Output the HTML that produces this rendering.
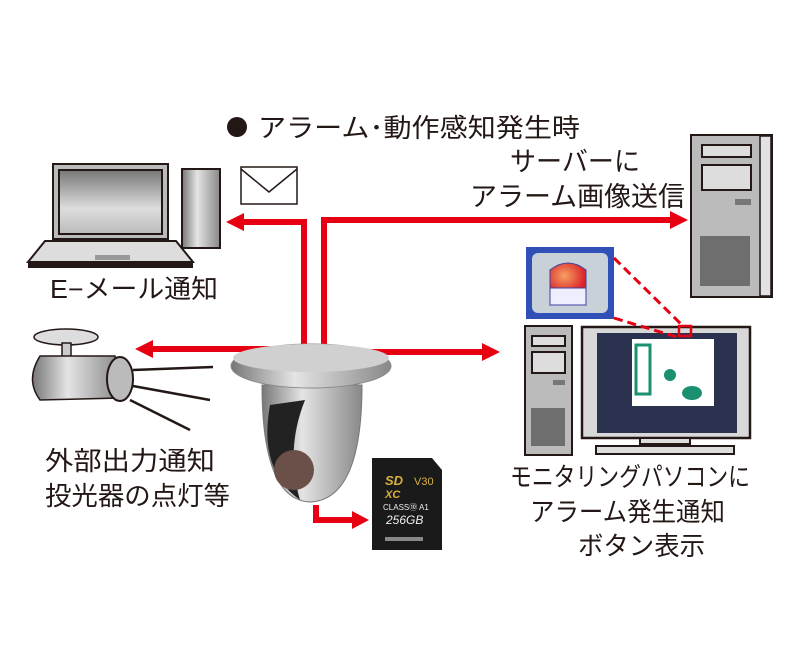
<!DOCTYPE html>
<html><head><meta charset="utf-8"><style>
body{margin:0;background:#fff}
svg text{font-family:"Liberation Sans","Noto Sans CJK JP",sans-serif;fill:#231815}
</style></head><body>
<svg width="800" height="666" viewBox="0 0 800 666" xmlns="http://www.w3.org/2000/svg">
<defs>
<linearGradient id="scr" x1="0" y1="0" x2="0" y2="1"><stop offset="0" stop-color="#777"/><stop offset="0.6" stop-color="#ddd"/><stop offset="1" stop-color="#bbb"/></linearGradient>
<linearGradient id="met" x1="0" y1="0" x2="1" y2="0"><stop offset="0" stop-color="#777"/><stop offset="0.4" stop-color="#e4e4e4"/><stop offset="1" stop-color="#888"/></linearGradient>
<radialGradient id="red" cx="0.4" cy="0.4" r="0.6"><stop offset="0" stop-color="#f8a060"/><stop offset="1" stop-color="#d8202a"/></radialGradient>
</defs>
<!-- title -->
<circle cx="237" cy="127" r="10" fill="#231815"/>
<text x="258" y="137" font-size="26" textLength="322" lengthAdjust="spacingAndGlyphs">アラーム･動作感知発生時</text>
<!-- laptop -->
<rect x="53" y="164" width="115" height="75" fill="#bbb" stroke="#231815" stroke-width="2"/>
<rect x="59" y="170" width="103" height="64" fill="url(#scr)" stroke="#231815" stroke-width="2"/>
<polygon points="45,241 176,241 193,262 28,262" fill="#ddd" stroke="#231815" stroke-width="2"/>
<rect x="28" y="262" width="165" height="6" fill="#231815"/>
<rect x="95" y="255" width="35" height="5" fill="#999"/>
<rect x="182" y="169" width="38" height="79" fill="url(#met)" stroke="#231815" stroke-width="2"/>
<rect x="241" y="167" width="56" height="37" fill="#fff" stroke="#231815" stroke-width="1.5"/>
<polyline points="241,169 269,192 297,169" fill="none" stroke="#231815" stroke-width="1.5"/>
<text x="50" y="298" font-size="26" textLength="168" lengthAdjust="spacingAndGlyphs">E−メール通知</text>
<!-- server -->
<rect x="691" y="135" width="81" height="162" fill="#bbb" stroke="#231815" stroke-width="2"/>
<rect x="760" y="136" width="11" height="160" fill="#e2e2e2" stroke="#231815" stroke-width="1.5"/>
<rect x="702" y="145" width="49" height="12" fill="#ddd" stroke="#231815" stroke-width="2"/>
<rect x="702" y="165" width="49" height="25" fill="#ddd" stroke="#231815" stroke-width="2"/>
<rect x="735" y="199" width="16" height="6" fill="#777"/>
<rect x="700" y="236" width="50" height="50" fill="#6e6e6e"/>
<text x="510" y="171" font-size="27" textLength="130" lengthAdjust="spacingAndGlyphs">サーバーに</text>
<text x="470" y="206" font-size="27" textLength="215" lengthAdjust="spacingAndGlyphs">アラーム画像送信</text>
<!-- red connectors -->
<g stroke="#e60012" stroke-width="6" fill="none">
<polyline points="304,345 304,222 240,222"/>
<polyline points="324,345 324,220 672,220"/>
<line x1="300" y1="349" x2="150" y2="349"/>
<line x1="360" y1="352" x2="485" y2="352"/>
<polyline points="316,505 316,520 354,520"/>
</g>
<g fill="#e60012">
<polygon points="226,222 244,213 244,231"/>
<polygon points="688,220 670,211 670,229"/>
<polygon points="135,349 153,340 153,358"/>
<polygon points="500,352 482,343 482,361"/>
<polygon points="369,520 352,511 352,529"/>
</g>
<!-- bullet camera -->
<ellipse cx="66" cy="337" rx="32" ry="8" fill="#ddd" stroke="#231815" stroke-width="1.5"/>
<rect x="62" y="343" width="9" height="14" fill="#ccc" stroke="#231815" stroke-width="1.5"/>
<path d="M40,356 L115,356 L120,398 L40,400 Q25,380 40,356Z" fill="url(#met)" stroke="#231815" stroke-width="1.5"/>
<ellipse cx="120" cy="379" rx="13" ry="22" fill="#bbb" stroke="#231815" stroke-width="2"/>
<g stroke="#231815" stroke-width="2.5"><line x1="133" y1="370" x2="213" y2="367"/><line x1="133" y1="386" x2="210" y2="400"/><line x1="130" y1="400" x2="190" y2="430"/></g>
<text x="45" y="470" font-size="26" textLength="170" lengthAdjust="spacingAndGlyphs">外部出力通知</text>
<text x="45" y="505" font-size="26" textLength="185" lengthAdjust="spacingAndGlyphs">投光器の点灯等</text>
<!-- dome camera -->
<path d="M262,385 Q262,500 310,502 Q362,500 362,385Z" fill="url(#met)" stroke="#777"/>
<path d="M270,405 Q258,470 300,500 Q285,450 305,400Z" fill="#222"/>
<circle cx="294" cy="470" r="20" fill="#6a5048"/>
<ellipse cx="311" cy="366" rx="80" ry="22" fill="url(#met)" stroke="#888"/>
<ellipse cx="311" cy="358" rx="78" ry="14" fill="#d0d0d0"/>
<!-- SD card -->
<path d="M372,458 L432,458 L442,470 L442,550 L372,550Z" fill="#1a1a1a"/>
<text x="385" y="485" font-size="13" font-style="italic" font-weight="bold" style="fill:#d8b040">SD</text>
<text x="414" y="485" font-size="11" style="fill:#d8b040">V30</text>
<text x="385" y="498" font-size="11" font-style="italic" font-weight="bold" style="fill:#d8b040">XC</text>
<text x="383" y="510" font-size="8" style="fill:#eee">CLASS⑩ A1</text>
<text x="386" y="524" font-size="12" font-style="italic" style="fill:#eee">256GB</text>
<rect x="385" y="537" width="38" height="4" fill="#888"/>
<!-- monitoring PC -->
<rect x="525" y="326" width="47" height="129" fill="#bbb" stroke="#231815" stroke-width="2"/>
<rect x="532" y="336" width="33" height="10" fill="#ddd" stroke="#231815" stroke-width="2"/>
<rect x="532" y="352" width="33" height="21" fill="#ddd" stroke="#231815" stroke-width="2"/>
<rect x="553" y="380" width="12" height="5" fill="#777"/>
<rect x="531" y="408" width="34" height="38" fill="#6e6e6e"/>
<rect x="582" y="327" width="168" height="111" fill="#d8d8d8" stroke="#231815" stroke-width="2.5"/>
<rect x="597" y="333" width="140" height="100" fill="#2a3250"/>
<rect x="632" y="339" width="82" height="67" fill="#fff"/>
<path d="M636,345 L650,345 L650,394 L636,394Z" fill="none" stroke="#1a9070" stroke-width="3"/>
<circle cx="670" cy="375" r="6" fill="#1a9070"/><ellipse cx="692" cy="393" rx="10" ry="7" fill="#1a9070"/>
<rect x="640" y="438" width="50" height="6" fill="#ddd" stroke="#231815" stroke-width="2"/>
<rect x="596" y="446" width="138" height="8" fill="#ddd" stroke="#231815" stroke-width="2"/>
<!-- icon -->
<rect x="526" y="247" width="88" height="72" fill="#3050b8"/>
<rect x="532" y="253" width="76" height="60" rx="6" fill="#c8d0d8"/>
<path d="M550,295 L550,270 Q568,256 586,270 L586,295Z" fill="url(#red)" stroke="#4040a0"/>
<rect x="550" y="288" width="36" height="17" fill="#eef" stroke="#4040a0"/>
<g stroke="#e60012" stroke-width="3" stroke-dasharray="9,5" fill="none">
<line x1="614" y1="258" x2="684" y2="327"/><line x1="614" y1="318" x2="680" y2="338"/>
</g>
<rect x="679" y="326" width="12" height="10" fill="none" stroke="#e60012" stroke-width="2.5"/>
<text x="510" y="486" font-size="26" textLength="240" lengthAdjust="spacingAndGlyphs">モニタリングパソコンに</text>
<text x="530" y="521" font-size="26" textLength="195" lengthAdjust="spacingAndGlyphs">アラーム発生通知</text>
<text x="578" y="555" font-size="26" textLength="127" lengthAdjust="spacingAndGlyphs">ボタン表示</text>
</svg>
</body></html>
